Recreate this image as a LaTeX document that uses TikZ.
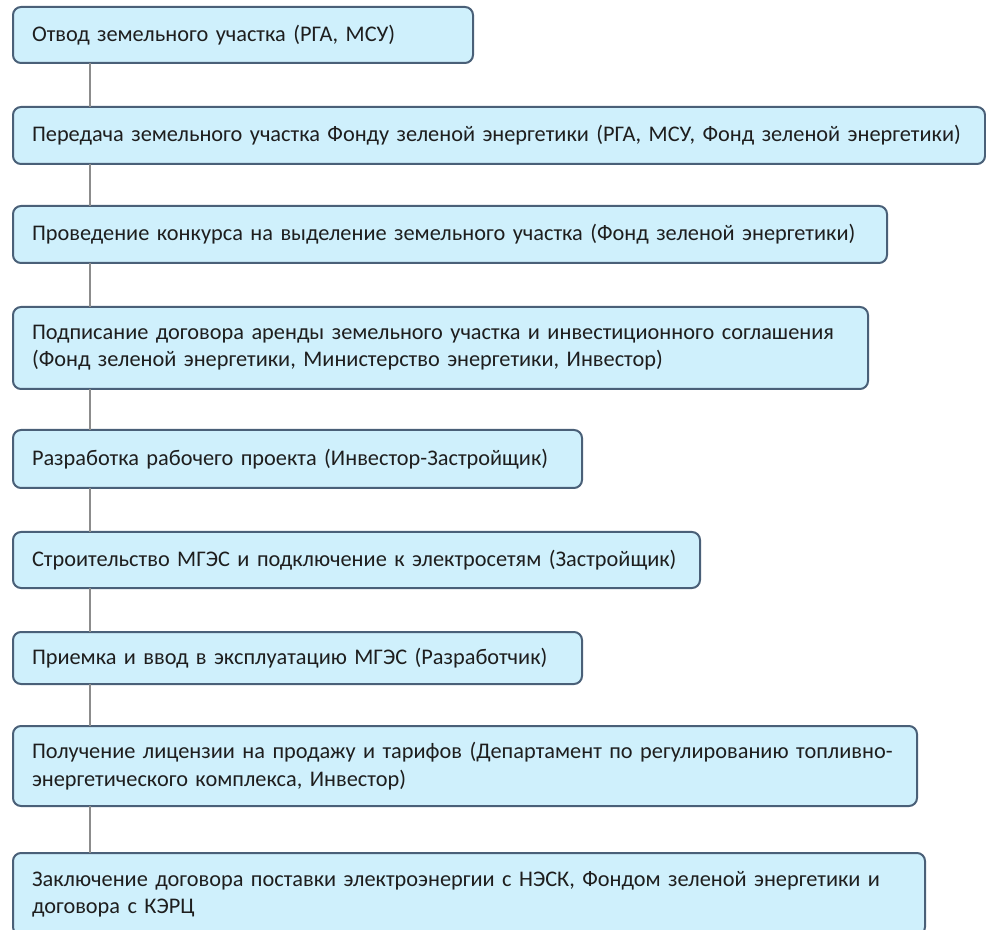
\documentclass[tikz,border=0pt]{standalone}
\usepackage{fontspec}
\setmainfont{Carlito}
\usepackage{tikz}

\definecolor{boxfill}{RGB}{207,240,252}
\definecolor{boxline}{RGB}{74,96,120}
\definecolor{linkgray}{RGB}{140,140,140}
\definecolor{textgray}{RGB}{30,30,30}

\tikzset{
  stagebox/.style={draw=boxline, fill=boxfill, line width=1.5pt, rounded corners=6pt,
    anchor=north west, outer sep=0pt, inner xsep=14.25pt, inner ysep=0pt, align=left,
    text=textgray, font=\fontsize{16.75pt}{20.5pt}\selectfont},
  link/.style={draw=linkgray, line width=1.5pt}
}

\begin{document}
\begin{tikzpicture}[x=0.75pt,y=0.75pt,yscale=-1,xscale=1]
\useasboundingbox (0,0) rectangle (986,930); %picture is 986 x 930

%Shapes: stages
\node [stagebox, text width=316.5pt, minimum height=42pt] (st1) at (13,7) {Отвод земельного участка (РГА, МСУ)};
\node [stagebox, text width=700.5pt, minimum height=42.75pt] (st2) at (13,107) {Передача земельного участка Фонду зеленой энергетики (РГА, МСУ, Фонд зеленой энергетики)};
\node [stagebox, text width=627pt, minimum height=42.75pt] (st3) at (13,206) {Проведение конкурса на выделение земельного участка (Фонд зеленой энергетики)};
\node [stagebox, text width=612.75pt, minimum height=61.5pt] (st4) at (13,307) {Подписание договора аренды земельного участка и инвестиционного соглашения\\(Фонд зеленой энергетики, Министерство энергетики, Инвестор)};
\node [stagebox, text width=398.25pt, minimum height=43.5pt] (st5) at (13,430) {Разработка рабочего проекта (Инвестор-Застройщик)};
\node [stagebox, text width=486.75pt, minimum height=42pt] (st6) at (13,532) {Строительство МГЭС и подключение к электросетям (Застройщик)};
\node [stagebox, text width=398.25pt, minimum height=39pt] (st7) at (13,632) {Приемка и ввод в эксплуатацию МГЭС (Разработчик)};
\node [stagebox, text width=649.5pt, minimum height=60pt] (st8) at (13,726) {Получение лицензии на продажу и тарифов (Департамент по регулированию топливно-\\энергетического комплекса, Инвестор)};
\node [stagebox, text width=655.5pt, minimum height=61.5pt] (st9) at (13,853) {Заключение договора поставки электроэнергии с НЭСК, Фондом зеленой энергетики и\\договора с КЭРЦ};

%Straight Lines: spine
\coordinate (spine) at (90,0);
\foreach \a/\b in {st1/st2,st2/st3,st3/st4,st4/st5,st5/st6,st6/st7,st7/st8,st8/st9}
  \draw [link] (\a.south -| spine) -- (\b.north -| spine);

\end{tikzpicture}
\end{document}
